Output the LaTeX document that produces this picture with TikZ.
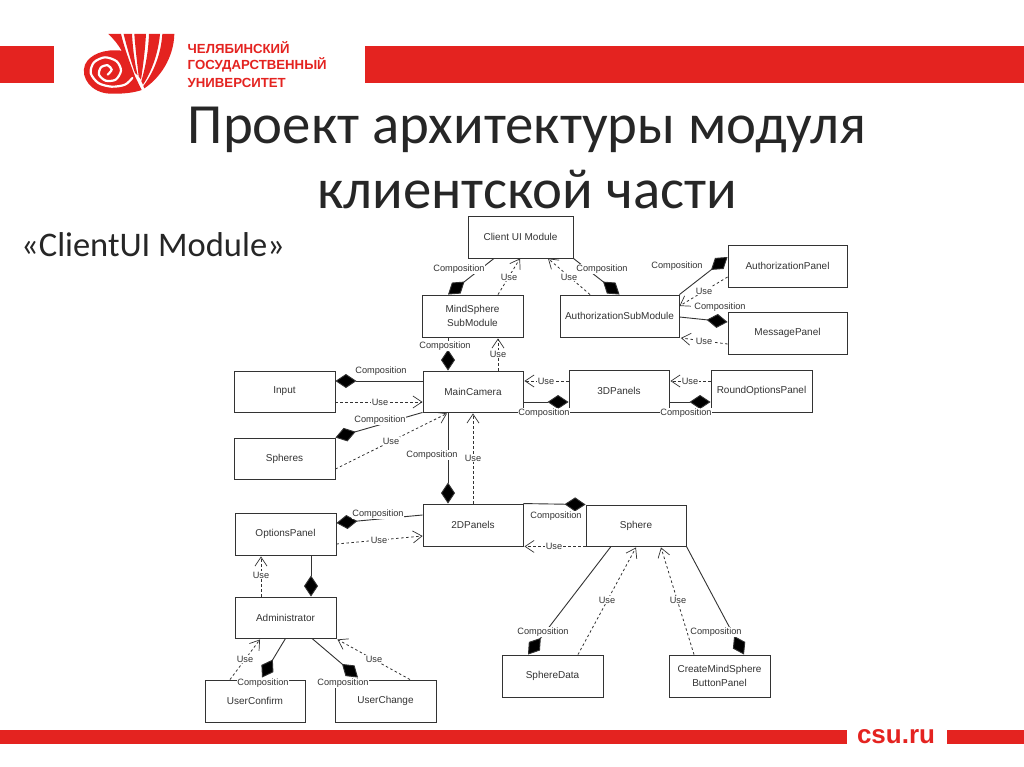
\documentclass[tikz,border=0pt]{standalone}
\usepackage{fontspec}
\setmainfont{Liberation Sans}
\newfontfamily\titlefont{Carlito}
\usetikzlibrary{arrows.meta}
\definecolor{csured}{HTML}{E42320}
\definecolor{ink}{HTML}{333333}
\definecolor{titleink}{HTML}{262626}
\tikzset{
  x=1pt,y=-1pt,
  box/.style={draw=ink,line width=0.9pt,fill=white,inner sep=0pt,align=center,text=ink,font=\fontsize{10}{14}\selectfont,minimum height=42pt,minimum width=101pt},
  lab/.style={fill=white,inner sep=0.6pt,text=ink,font=\fontsize{9.2}{11}\selectfont},
  comp/.style={draw=ink,line width=0.9pt,-{Diamond[length=21pt,width=14pt,fill=black]}},
  use/.style={draw=ink,line width=0.8pt,dash pattern=on 2.5pt off 2.5pt,-{Straight Barb[length=9pt,width=12pt,line width=0.7pt]}},
  plainline/.style={draw=ink,line width=0.9pt},
  redbar/.style={fill=csured,draw=none},
  logotext/.style={anchor=west,inner sep=0pt,text=csured,font=\fontsize{13.2}{15}\selectfont\bfseries},
}
\begin{document}
\begin{tikzpicture}
\useasboundingbox (0,0) rectangle (1024,767);
\fill[white] (0,0) rectangle (1024,767);
% bars
\fill[redbar] (0,46) rectangle (54,83);
\fill[redbar] (365,46) rectangle (1024,83);
\fill[redbar] (0,729.5) rectangle (847,744);
\fill[redbar] (947,729.5) rectangle (1024,744);
\node[inner sep=0pt,text=csured,font=\fontsize{26}{28}\selectfont\bfseries] (csu) at (896,737) {csu.ru};
% logo
\begin{scope}[shift={(75,28)},scale=1/3]
  % body
  \fill[csured] (100,18) -- (138,18) .. controls (148,60) and (165,105) .. (180,145) -- (200,186) .. controls (175,195) and (140,198) .. (105,197) .. controls (50,195) and (15,150) .. (30,110) .. controls (45,78) and (90,62) .. (140,68) .. controls (130,50) and (115,32) .. (100,18) -- cycle;
  % blades
  \fill[csured] (146,18) -- (171,18) .. controls (174,70) and (180,110) .. (188,142) -- (180,135) .. controls (168,100) and (155,55) .. (146,18) -- cycle;
  \fill[csured] (178,18) -- (213,18) .. controls (210,70) and (204,115) .. (198,155) -- (191,145) .. controls (186,100) and (181,60) .. (178,18) -- cycle;
  \fill[csured] (222,18) -- (255,18) .. controls (250,75) and (230,130) .. (204,170) -- (199,160) .. controls (212,115) and (220,70) .. (222,18) -- cycle;
  \fill[csured] (262,18) -- (298,18) .. controls (296,90) and (255,150) .. (208,181) -- (205,174) .. controls (235,135) and (258,80) .. (262,18) -- cycle;
  % spiral
  \draw[white,line width=2.2pt,line cap=round] plot[smooth] coordinates {(172,150) (150,170) (110,176) (70,165) (47,135) (57,103) (90,88) (125,100) (138,128) (122,155) (92,158) (72,140) (78,118) (98,112) (110,125) (98,140)};
\end{scope}
\node[logotext] (u1) at (187.5,47.5) {ЧЕЛЯБИНСКИЙ};
\node[logotext] (u2) at (187.5,65) {ГОСУДАРСТВЕННЫЙ};
\node[logotext] (u3) at (187.5,82.5) {УНИВЕРСИТЕТ};
% title
\node[align=center,inner sep=0pt,text=titleink,font=\titlefont\fontsize{56.8}{65}\selectfont] (title) at (527,158) {Проект архитектуры модуля\\клиентской части};
\node[anchor=west,inner sep=0pt,text=titleink,font=\titlefont\fontsize{34.5}{38}\selectfont] (sub) at (21,245) {«ClientUI Module»};
% boxes
\node[box,minimum width=105pt] (client) at (520.5,237) {Client UI Module};
\node[box] (mind) at (472.5,316) {MindSphere\\SubModule};
\node[box,minimum width=119pt] (auth) at (619.5,316) {AuthorizationSubModule};
\node[box,minimum width=119pt] (authp) at (787.5,266) {AuthorizationPanel};
\node[box,minimum width=119pt] (msg) at (787.5,333) {MessagePanel};
\node[box,minimum width=100pt,minimum height=41pt] (main) at (473,391.5) {MainCamera};
\node[box,minimum height=41pt] (input) at (284.5,391.5) {Input};
\node[box,minimum height=41pt] (spheres) at (284.5,458.5) {Spheres};
\node[box,minimum width=100pt] (p2d) at (473,525) {2DPanels};
\node[box] (options) at (285.5,534) {OptionsPanel};
\node[box,minimum width=100pt] (p3d) at (619,391) {3DPanels};
\node[box] (round) at (761.5,391) {RoundOptionsPanel};
\node[box,minimum width=100pt,minimum height=41pt] (sphere) at (636,525.5) {Sphere};
\node[box] (sdata) at (552.5,676) {SphereData};
\node[box] (create) at (719.5,676) {CreateMindSphere\\ButtonPanel};
\node[box,minimum height=41pt] (admin) at (285.5,617.5) {Administrator};
\node[box,minimum width=100pt] (uconf) at (255,701) {UserConfirm};
\node[box] (uchange) at (385.5,701) {UserChange};
% connectors
\draw[comp] ([xshift=-26.5pt]client.south) -- ([xshift=-24.5pt]mind.north);
\draw[use] ([xshift=25.5pt]mind.north) -- ([xshift=-0.5pt]client.south);
\draw[use] ([xshift=-29.5pt]auth.north) -- ([xshift=27.5pt]client.south);
\draw[comp] (client.south east) -- (auth.north);
\draw[comp] (auth.north east) -- ([yshift=9pt]authp.west);
\draw[use] ([yshift=-11pt]authp.west) -- ([yshift=10pt]auth.east);
\draw[comp] ([yshift=-1pt]auth.east) -- ([yshift=11pt]msg.west);
\draw[use] ([yshift=-11pt]msg.west) -- ([yshift=-22pt,xshift=1.5pt]auth.east);
\draw[comp] ([xshift=-24.5pt]mind.south) -- ([xshift=-25pt]main.north);
\draw[use] ([xshift=25pt]main.north) -- ([xshift=25.5pt,yshift=-1pt]mind.south);
\draw[use] ([yshift=10pt]p3d.west) -- ([yshift=10.5pt,xshift=1pt]main.east);
\draw[comp] ([yshift=-10.5pt]main.east) -- ([yshift=-11pt]p3d.west);
\draw[plainline] (main.south east) -- (p3d.south west);
\draw[use] ([yshift=10pt]round.west) -- ([yshift=10pt,xshift=1pt]p3d.east);
\draw[comp] ([yshift=-11pt]p3d.east) -- ([yshift=-11pt]round.west);
\draw[plainline] (p3d.south east) -- (round.south west);
\draw[comp] ([yshift=10.5pt]main.west) -- ([yshift=10.5pt]input.east);
\draw[use] ([yshift=-10.5pt]input.east) -- ([yshift=-10.5pt]main.west);
\draw[comp] (main.south west) -- (spheres.north east);
\draw[use] ([yshift=-10.5pt]spheres.east) -- ([xshift=-26pt,yshift=-1pt]main.south);
\draw[comp] ([xshift=-25pt]main.south) -- ([xshift=-25pt]p2d.north);
\draw[use] (p2d.north) -- ([yshift=-1pt]main.south);
\draw[comp] ([yshift=10pt]p2d.west) -- ([yshift=11pt]options.east);
\draw[use] ([yshift=-10pt]options.east) -- ([yshift=-11pt]p2d.west);
\draw[comp] (p2d.north east) -- (sphere.north west);
\draw[use] (sphere.south west) -- ([xshift=1pt]p2d.south east);
\draw[comp] ([xshift=-25pt]sphere.south) -- ([xshift=-24.5pt]sdata.north);
\draw[use] ([xshift=25.5pt]sdata.north) -- ([yshift=-1pt]sphere.south);
\draw[use] ([xshift=-25.5pt]create.north) -- ([xshift=25pt,yshift=-1pt]sphere.south);
\draw[comp] (sphere.south east) -- ([xshift=24.5pt]create.north);
\draw[comp] ([xshift=25.5pt]options.south) -- ([xshift=25.5pt]admin.north);
\draw[use] ([xshift=-24.5pt]admin.north) -- ([xshift=-24.5pt,yshift=-1pt]options.south);
\draw[use] ([xshift=-25pt]uconf.north) -- ([xshift=-25.5pt,yshift=-1pt]admin.south);
\draw[comp] (admin.south) -- ([xshift=7pt,yshift=2pt]uconf.north);
\draw[comp] ([xshift=26.5pt]admin.south) -- ([xshift=-27.5pt,yshift=2pt]uchange.north);
\draw[use] ([xshift=24.5pt]uchange.north) -- ([xshift=1pt,yshift=-1pt]admin.south east);
% labels
\node[lab] (c1) at (459,269) {Composition};
\node[lab] (c2) at (602,269) {Composition};
\node[lab] (c3) at (677,266) {Composition};
\node[lab] (c4) at (720,307) {Composition};
\node[lab] (c5) at (445,346) {Composition};
\node[lab] (c6) at (544,413) {Composition};
\node[lab] (c7) at (686,413) {Composition};
\node[lab] (c8) at (381,371) {Composition};
\node[lab] (c9) at (380,420) {Composition};
\node[lab] (c10) at (432,455) {Composition};
\node[lab] (c11) at (378,514) {Composition};
\node[lab] (c12) at (556,516) {Composition};
\node[lab] (c13) at (543,632) {Composition};
\node[lab] (c14) at (716,632) {Composition};
\node[lab] (c15) at (263,683) {Composition};
\node[lab] (c16) at (343,683) {Composition};
\node[lab] (u21) at (509,277) {Use};
\node[lab] (u22) at (569,277) {Use};
\node[lab] (u23) at (704,291) {Use};
\node[lab] (u24) at (704,341) {Use};
\node[lab] (u25) at (498,354) {Use};
\node[lab] (u26) at (546,381) {Use};
\node[lab] (u27) at (690,381) {Use};
\node[lab] (u28) at (380,402) {Use};
\node[lab] (u29) at (391,441) {Use};
\node[lab] (u30) at (473,458) {Use};
\node[lab] (u31) at (379,540) {Use};
\node[lab] (u32) at (554,546) {Use};
\node[lab] (u33) at (607,600) {Use};
\node[lab] (u34) at (678,600) {Use};
\node[lab] (u35) at (261,575) {Use};
\node[lab] (u36) at (245,659) {Use};
\node[lab] (u37) at (374,659) {Use};
\end{tikzpicture}
\end{document}
